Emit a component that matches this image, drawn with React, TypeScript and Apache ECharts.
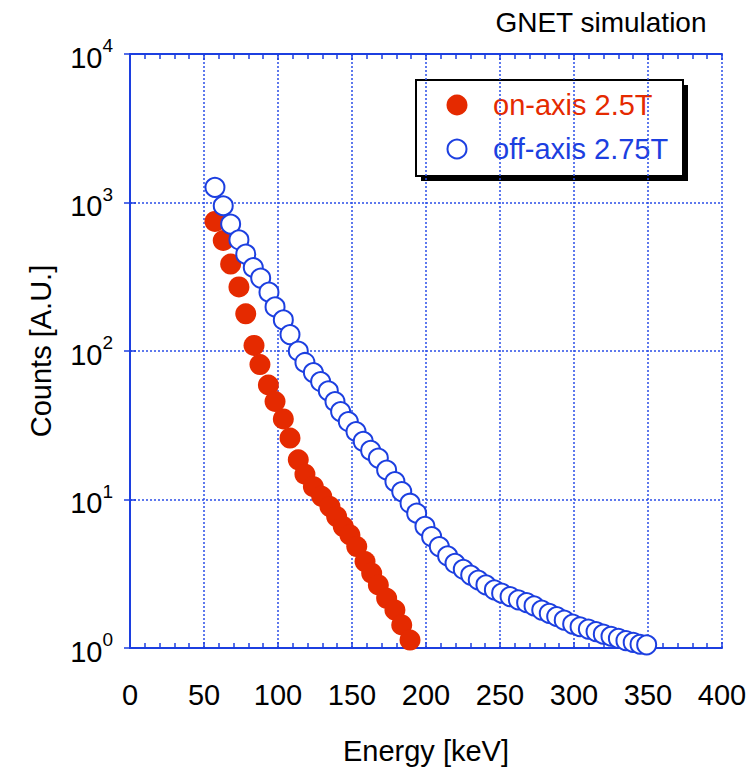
import React, { useEffect, useRef } from "react";
import * as echarts from "echarts";

const onAxisEnergy = [57.4, 63, 68, 73.6, 78.2, 83.8, 87.8, 93.5, 98, 103.6, 108.1, 113.7, 118.2, 123.9, 129.5, 135.1, 139.6, 144.1, 148.6, 153.2, 158.8, 163.3, 167.8, 173.4, 179, 183.6, 189.2];
const onAxisCounts = [746, 555, 385, 270, 178, 109, 81, 59, 45.7, 34.9, 25.9, 18.5, 14.8, 12.2, 10.5, 8.96, 7.67, 6.57, 5.77, 4.82, 3.82, 3.19, 2.66, 2.16, 1.8, 1.43, 1.13];

const offAxisEnergy = [57.4, 63, 68, 73.6, 78.2, 83.3, 88.3, 93.9, 98, 103.6, 108.1, 113.7, 118.2, 123.9, 128.8, 134, 138.5, 142.3, 147.5, 152.7, 157.6, 162.6, 167.8, 173.4, 179, 183.6, 189.2, 193.7, 199.3, 203.8, 209, 214.6, 219.6, 225.2, 230.2, 235.3, 240.5, 246.2, 251.1, 256.8, 262.4, 268, 273, 278.2, 283.3, 288.3, 293.4, 299.1, 304.1, 309.7, 314.9, 319.8, 325, 330, 335.1, 340, 344.6, 349.1];
const offAxisCounts = [1265, 951, 716, 561, 449, 365, 310, 249, 198, 162, 129, 100, 83.7, 71.6, 62.3, 53.9, 45.7, 39.1, 33.5, 28.7, 24.6, 21.4, 19, 15.8, 13.2, 11.3, 9.44, 8.09, 6.6, 5.62, 4.82, 4.17, 3.72, 3.39, 3.1, 2.87, 2.66, 2.46, 2.34, 2.22, 2.11, 2.02, 1.92, 1.8, 1.71, 1.63, 1.54, 1.45, 1.39, 1.34, 1.29, 1.24, 1.2, 1.16, 1.12, 1.09, 1.06, 1.05];

const seriesNames = ["on-axis 2.5T", "off-axis 2.75T"];
const titleText = "GNET simulation";
const xName = "Energy [keV]";
const yName = "Counts [A.U.]";

const RED = "#e52a00";
const BLUE = "#1c3fe0";
const GRID_BLUE = "#2a4ee8";
const FONT = "'Liberation Sans', Arial, Helvetica, sans-serif";

export default function App() {
  const ref = useRef<HTMLDivElement>(null);
  useEffect(() => {
    if (!ref.current) return;
    const chart = echarts.init(ref.current, null, { renderer: "svg" });
    const gridLine = { show: true, lineStyle: { color: GRID_BLUE, width: 1.5, type: [2, 2] as any } };
    const axisLine = { show: true, lineStyle: { color: BLUE, width: 2 } };
    const option: any = {
      animation: false,
      backgroundColor: "#fff",
      title: {
        text: titleText,
        right: 46,
        top: 8,
        padding: 0,
        textStyle: { fontFamily: FONT, fontSize: 28, fontWeight: "normal", color: "#000" },
      },
      grid: { left: 130, top: 54, width: 592, height: 594 },
      xAxis: [
        {
          type: "value",
          min: 0,
          max: 400,
          interval: 50,
          position: "bottom",
          axisLine,
          axisTick: { show: true, inside: true, length: 6, lineStyle: { color: BLUE, width: 1.5 } },
          minorTick: { show: true, splitNumber: 5, length: 5, lineStyle: { color: BLUE, width: 1.5 } },
          splitLine: gridLine,
          axisLabel: { fontFamily: FONT, fontSize: 29, color: "#000", margin: 32 },
          name: xName,
          nameLocation: "middle",
          nameGap: 88,
          nameTextStyle: { fontFamily: FONT, fontSize: 29, color: "#000" },
        },
        {
          type: "value",
          min: 0,
          max: 400,
          interval: 50,
          position: "top",
          axisLine,
          axisTick: { show: true, inside: true, length: 6, lineStyle: { color: BLUE, width: 1.5 } },
          minorTick: { show: true, splitNumber: 5, length: 5, lineStyle: { color: BLUE, width: 1.5 } },
          splitLine: { show: false },
          axisLabel: { show: false },
        },
      ],
      yAxis: [
        {
          type: "log",
          logBase: 10,
          min: 1,
          max: 10000,
          splitNumber: 4,
          position: "left",
          axisLine,
          axisTick: { show: true, inside: true, length: 6, lineStyle: { color: BLUE, width: 1.5 } },
          splitLine: gridLine,
          axisLabel: {
            margin: 17,
            formatter: (v: number) => `{b|10}{s|${Math.round(Math.log10(v))}}`,
            rich: {
              b: { fontFamily: FONT, fontSize: 29, color: "#000", verticalAlign: "bottom", lineHeight: 36 },
              s: { fontFamily: FONT, fontSize: 19, color: "#000", verticalAlign: "top", lineHeight: 36 },
            },
          },
          name: yName,
          nameLocation: "middle",
          nameGap: 75,
          nameRotate: 90,
          nameTextStyle: { fontFamily: FONT, fontSize: 29, color: "#000" },
        },
        {
          type: "log",
          logBase: 10,
          min: 1,
          max: 10000,
          splitNumber: 4,
          position: "right",
          axisLine,
          axisTick: { show: true, inside: true, length: 6, lineStyle: { color: BLUE, width: 1.5 } },
          splitLine: { show: false },
          axisLabel: { show: false },
        },
      ],
      series: [
        {
          name: seriesNames[0],
          type: "scatter",
          xAxisIndex: 0,
          yAxisIndex: 0,
          symbol: "circle",
          symbolSize: 21,
          itemStyle: { color: RED, opacity: 1 },
          data: onAxisEnergy.map((x, i) => [x, onAxisCounts[i]]),
          z: 3,
        },
        {
          name: seriesNames[1],
          type: "scatter",
          xAxisIndex: 0,
          yAxisIndex: 0,
          symbol: "circle",
          symbolSize: 19,
          itemStyle: { color: "#fff", borderColor: BLUE, borderWidth: 2, opacity: 1 },
          data: offAxisEnergy.map((x, i) => [x, offAxisCounts[i]]),
          z: 4,
        },
      ],
      graphic: [
        {
          type: "group",
          z: 100,
          children: [
            { type: "rect", shape: { x: 421, y: 85, width: 267, height: 96 }, style: { fill: "#000" } },
            { type: "rect", shape: { x: 416, y: 80, width: 267, height: 96 }, style: { fill: "#fff", stroke: "#000", lineWidth: 2 } },
            { type: "circle", shape: { cx: 457, cy: 105, r: 10.5 }, style: { fill: RED } },
            { type: "circle", shape: { cx: 457, cy: 149, r: 9.5 }, style: { fill: "#fff", stroke: BLUE, lineWidth: 2 } },
            {
              type: "text",
              x: 493,
              y: 105,
              style: { text: seriesNames[0], fill: RED, fontFamily: FONT, fontSize: 29, verticalAlign: "middle", align: "left" },
            },
            {
              type: "text",
              x: 493,
              y: 149,
              style: { text: seriesNames[1], fill: BLUE, fontFamily: FONT, fontSize: 29, verticalAlign: "middle", align: "left" },
            },
          ],
        },
      ],
    };
    chart.setOption(option);
    return () => chart.dispose();
  }, []);
  return <div ref={ref} style={{ position: "fixed", left: 0, top: 0, width: 753, height: 773 }} />;
}
